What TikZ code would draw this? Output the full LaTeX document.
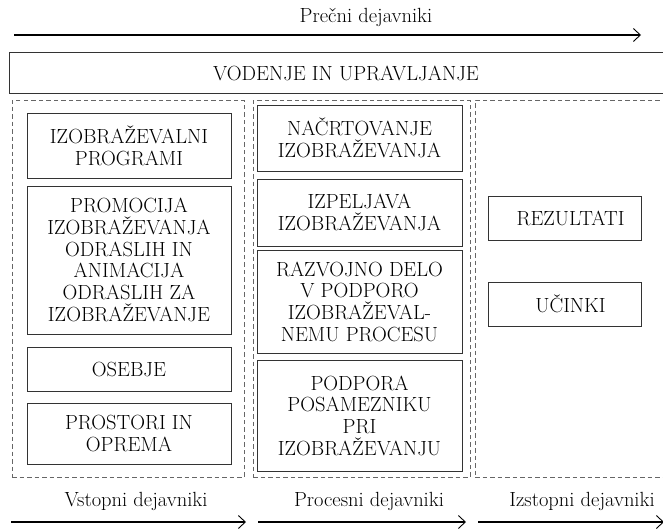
\documentclass[tikz,border=0pt]{standalone}
\usetikzlibrary{arrows.meta}
\begin{document}
\begin{tikzpicture}[x=1pt, y=-1pt,
    every node/.style={font=\fontsize{20.5}{21.7}\selectfont},
    box/.style={draw=black!80, line width=0.9pt, align=center, inner sep=0pt},
    col/.style={draw=black!60, dash pattern=on 4.5pt off 3pt, line width=0.8pt, inner sep=0pt},
    flow/.style={-{Straight Barb[length=7pt,width=13pt,line width=0.9pt]}, line width=1.3pt}]
    \useasboundingbox (0,0) rectangle (663,530);
    % cross-cutting factors
    \node[] (precni) at (366,17) {Prečni dejavniki};
    \coordinate (ps) at (14,35);
    \coordinate (pe) at (641,35);
    \draw[flow] (ps) -- (pe);
    \node[box, minimum width=674, minimum height=41] (vodenje) at (346,73) {VODENJE IN UPRAVLJANJE};
    % three columns
    \node[col, minimum width=232, minimum height=377] (vstop) at (128,288.5) {};
    \node[col, minimum width=217, minimum height=377] (proces) at (361.5,288.5) {};
    \node[col, minimum width=215, minimum height=377] (izstop) at (582.5,288.5) {};
    % input factors
    \node[box, minimum width=204, minimum height=65] (programi) at (129,145.5) {IZOBRAŽEVALNI\\PROGRAMI};
    \node[box, minimum width=204, minimum height=148] (promocija) at (129,260) {PROMOCIJA\\IZOBRAŽEVANJA\\ODRASLIH IN\\ANIMACIJA\\ODRASLIH ZA\\IZOBRAŽEVANJE};
    \node[box, minimum width=204, minimum height=44] (osebje) at (129,369) {OSEBJE};
    \node[box, minimum width=204, minimum height=61] (prostori) at (129,433.5) {PROSTORI IN\\OPREMA};
    % process factors
    \node[box, minimum width=205, minimum height=66] (nacrt) at (359.5,138) {NAČRTOVANJE\\IZOBRAŽEVANJA};
    \node[box, minimum width=205, minimum height=67] (izpeljava) at (359.5,212.5) {IZPELJAVA\\IZOBRAŽEVANJA};
    \node[box, minimum width=205, minimum height=103] (razvoj) at (359.5,301.5) {RAZVOJNO DELO\\V PODPORO\\IZOBRAŽEVAL-\\NEMU PROCESU};
    \node[box, minimum width=205, minimum height=111] (podpora) at (359.5,415.5) {PODPORA\\POSAMEZNIKU\\PRI\\IZOBRAŽEVANJU};
    % output factors
    \node[box, minimum width=153, minimum height=44] (rezultati) at (564.5,218) {\hspace{12pt}REZULTATI};
    \node[box, minimum width=153, minimum height=44] (ucinki) at (564.5,304) {\hspace{12pt}UČINKI};
    % bottom arrows
    \node[] (vstopni) at (136,501) {Vstopni dejavniki};
    \node[] (procesni) at (369,501) {Procesni dejavniki};
    \node[] (izstopni) at (582,501) {Izstopni dejavniki};
    \coordinate (vs) at (11,522);
    \coordinate (ve) at (246,522);
    \coordinate (prs) at (258,522);
    \coordinate (pre) at (466,522);
    \coordinate (is) at (478,522);
    \coordinate (ie) at (664,522);
    \draw[flow] (vs) -- (ve);
    \draw[flow] (prs) -- (pre);
    \draw[flow] (is) -- (ie);
\end{tikzpicture}
\end{document}
